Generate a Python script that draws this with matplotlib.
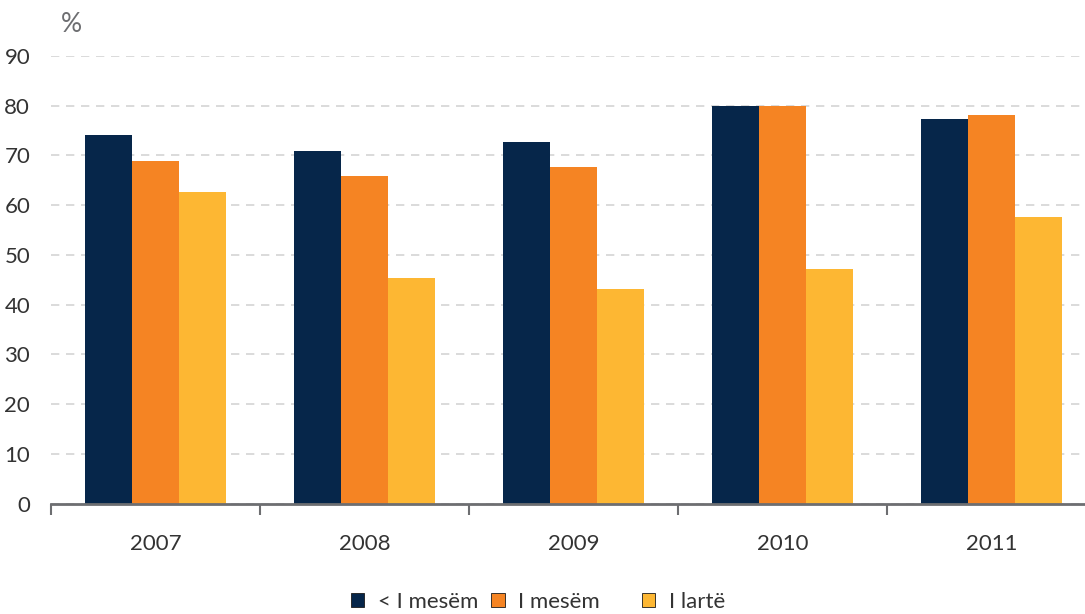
#!/usr/bin/env python3
import numpy as np
import matplotlib.pyplot as plt
from matplotlib.ticker import FixedLocator, NullFormatter

# Data
years = ["2007", "2008", "2009", "2010", "2011"]
below_secondary = [74.1, 70.9, 72.7, 80.0, 77.4]   # < I mesëm
secondary = [68.9, 65.9, 67.7, 80.0, 78.2]         # I mesëm
higher = [62.7, 45.3, 43.2, 47.2, 57.6]            # I lartë
labels = ["< I mesëm", "I mesëm", "I lartë"]

colors = ["#06264a", "#f58423", "#fdb733"]
axis_grey = "#6d6e71"
text_col = "#333333"

plt.rcParams['font.family'] = ['Lato', 'DejaVu Sans']

fig = plt.figure(figsize=(10.85, 6.14), dpi=100)
W, H = 1085, 614
ax = fig.add_axes([51 / W, 1 - 503.5 / H, (1085 - 51) / W, (503.5 - 56) / H])

x = np.arange(len(years))
w = 0.225
bars = []
for i, (vals, lab) in enumerate(zip([below_secondary, secondary, higher], labels)):
    bars.append(ax.bar(x + (i - 1) * w, vals, width=w, color=colors[i], label=lab, zorder=3))

ax.set_ylim(0, 90)
ax.set_xlim(-0.5, -0.5 + (1085 - 51) / 209)
ax.set_yticks(np.arange(0, 91, 10))
ax.yaxis.grid(True, linestyle=(0, (5, 4)), color="#d4d4d4", linewidth=1.2, zorder=0)
ax.tick_params(axis='y', length=0, pad=15, labelsize=16, labelcolor=text_col)

# boundary ticks below the axis, labels at group centres
ax.xaxis.set_major_locator(FixedLocator(np.arange(-0.5, 5, 1)))
ax.xaxis.set_major_formatter(NullFormatter())
ax.xaxis.set_minor_locator(FixedLocator(x))
ax.set_xticklabels(years, minor=True)
ax.tick_params(axis='x', which='major', length=8, width=1.5, color=axis_grey, direction='out')
ax.tick_params(axis='x', which='minor', length=0, pad=22, labelsize=16, labelcolor=text_col)

for s in ['top', 'right', 'left']:
    ax.spines[s].set_visible(False)
ax.spines['bottom'].set_color(axis_grey)
ax.spines['bottom'].set_linewidth(2)
ax.spines['bottom'].set_zorder(4)

fig.text(61 / W, 1 - 25 / H, "%", fontsize=19, color=axis_grey, va='center', ha='left')

# extra gap before the last entry, as in the original
leg_labels = [labels[0], labels[1] + "     ", labels[2]]
leg = fig.legend(bars, leg_labels, loc='center', bbox_to_anchor=(538 / W, 1 - 602 / H), ncol=3,
                 frameon=False, fontsize=16, handlelength=0.6, handleheight=0.6,
                 handletextpad=0.6, columnspacing=0.6, labelcolor=text_col)
for p in leg.get_patches():
    p.set_edgecolor('#1a1a1a')
    p.set_linewidth(0.6)

fig.savefig("out.png", dpi=100)
